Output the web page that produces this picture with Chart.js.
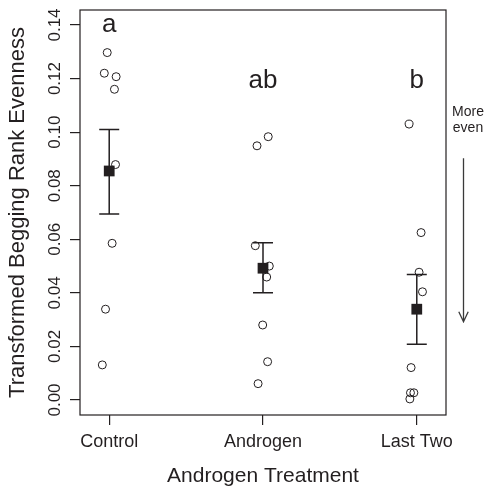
<!DOCTYPE html>
<html>
<head>
<meta charset="utf-8">
<script src="https://cdn.jsdelivr.net/npm/chart.js@4/dist/chart.umd.min.js"></script>
<style>
  html, body { margin: 0; padding: 0; background: #ffffff; }
  #wrap { width: 490px; height: 490px; }
</style>
</head>
<body>
<div id="wrap"><canvas id="c" width="490" height="490"></canvas></div>
<script>
// ---- Data ----
const categories = ['Control', 'Androgen', 'Last Two'];

const controlValues  = [0.1297, 0.1220, 0.1207, 0.1160, 0.0879, 0.0585, 0.0339, 0.0131];
const controlJitter  = [-0.013, -0.032, 0.045, 0.034, 0.041, 0.019, -0.024, -0.045];

const androgenValues = [0.0983, 0.0949, 0.0576, 0.0500, 0.0459, 0.0280, 0.0143, 0.0061];
const androgenJitter = [0.034, -0.039, -0.050, 0.041, 0.024, -0.002, 0.030, -0.032];

const lastTwoValues  = [0.1030, 0.0625, 0.0477, 0.0404, 0.0121, 0.0027, 0.0027, 0.0004];
const lastTwoJitter  = [-0.050, 0.028, 0.015, 0.037, -0.037, -0.019, -0.041, -0.045];

const means      = [0.0855, 0.0492, 0.0339];
const errUpper   = [0.1010, 0.0587, 0.0469];
const errLower   = [0.0694, 0.0400, 0.0208];

const groupLetters = ['a', 'ab', 'b'];

const yTicks      = [0.00, 0.02, 0.04, 0.06, 0.08, 0.10, 0.12, 0.14];
const yTickLabels = ['0.00', '0.02', '0.04', '0.06', '0.08', '0.10', '0.12', '0.14'];
const xTicks      = [1, 2, 3];

// ---- Build datasets ----
const INK = '#231f20';
const FONT = '"Liberation Sans", Arial, Helvetica, sans-serif';

const groups = [
  { values: controlValues,  jitter: controlJitter },
  { values: androgenValues, jitter: androgenJitter },
  { values: lastTwoValues,  jitter: lastTwoJitter }
];

const individualPoints = [];
groups.forEach((g, gi) => {
  g.values.forEach((v, k) => {
    individualPoints.push({ x: xTicks[gi] + g.jitter[k], y: v });
  });
});

const meanPoints = means.map((m, i) => ({ x: xTicks[i], y: m }));

// ---- Plugins ----
const boxPlugin = {
  id: 'box',
  afterDraw(chart) {
    const { ctx, chartArea: a } = chart;
    ctx.save();
    ctx.strokeStyle = INK;
    ctx.lineWidth = 1.2;
    ctx.strokeRect(a.left, a.top, a.right - a.left, a.bottom - a.top);
    ctx.restore();
  }
};

const errorBarPlugin = {
  id: 'errorBars',
  beforeDatasetsDraw(chart) {
    const { ctx } = chart;
    const xs = chart.scales.x, ys = chart.scales.y;
    const capHalf = 10;
    ctx.save();
    ctx.strokeStyle = INK;
    ctx.lineWidth = 1.5;
    means.forEach((m, i) => {
      const px = xs.getPixelForValue(xTicks[i]);
      const pTop = ys.getPixelForValue(errUpper[i]);
      const pBot = ys.getPixelForValue(errLower[i]);
      ctx.beginPath();
      ctx.moveTo(px, pTop); ctx.lineTo(px, pBot);
      ctx.moveTo(px - capHalf, pTop); ctx.lineTo(px + capHalf, pTop);
      ctx.moveTo(px - capHalf, pBot); ctx.lineTo(px + capHalf, pBot);
      ctx.stroke();
    });
    ctx.restore();
  }
};

const annotationPlugin = {
  id: 'annotations',
  afterDatasetsDraw(chart) {
    const { ctx, chartArea: a } = chart;
    const xs = chart.scales.x, ys = chart.scales.y;
    ctx.save();
    // group letters
    const letterBaseline = [0.1374, 0.1165, 0.1165];
    ctx.fillStyle = INK;
    ctx.font = '26px ' + FONT;
    ctx.textAlign = 'center';
    ctx.textBaseline = 'alphabetic';
    groupLetters.forEach((t, i) => {
      ctx.fillText(t, xs.getPixelForValue(xTicks[i]), ys.getPixelForValue(letterBaseline[i]));
    });
    // "More even" note with arrow, outside the plot on the right
    ctx.font = '14px ' + FONT;
    const tx = a.right + 22;
    ctx.fillText('More', tx, 115.5);
    ctx.fillText('even', tx, 131.5);
    const ax = a.right + 17.5;
    const ay1 = ys.getPixelForValue(0.0903);
    const ay2 = ys.getPixelForValue(0.0292);
    ctx.strokeStyle = '#3a3a3a';
    ctx.lineWidth = 1.3;
    ctx.beginPath();
    ctx.moveTo(ax, ay1); ctx.lineTo(ax, ay2);
    ctx.moveTo(ax - 4.7, ay2 - 10); ctx.lineTo(ax, ay2); ctx.lineTo(ax + 4.7, ay2 - 10);
    ctx.stroke();
    ctx.restore();
  }
};

Chart.defaults.color = INK;
Chart.defaults.font.family = FONT;

new Chart(document.getElementById('c'), {
  type: 'scatter',
  data: {
    datasets: [
      {
        label: 'Mean',
        data: meanPoints,
        order: 0,
        pointStyle: 'rect',
        pointRadius: 7.6,
        pointHoverRadius: 7.6,
        backgroundColor: INK,
        borderColor: INK,
        borderWidth: 0
      },
      {
        label: 'Individuals',
        data: individualPoints,
        order: 1,
        pointStyle: 'circle',
        pointRadius: 4,
        pointHoverRadius: 4,
        backgroundColor: 'rgba(0,0,0,0)',
        borderColor: INK,
        borderWidth: 1
      }
    ]
  },
  options: {
    responsive: false,
    animation: false,
    events: [],
    layout: { padding: { top: 10, right: 44, left: 0, bottom: 0 } },
    plugins: {
      legend: { display: false },
      tooltip: { enabled: false }
    },
    scales: {
      x: {
        type: 'linear',
        min: 0.81,
        max: 3.19,
        afterBuildTicks(scale) { scale.ticks = xTicks.map(v => ({ value: v })); },
        afterFit(scale) { scale.height = 75; },
        grid: { drawOnChartArea: false, drawTicks: true, tickLength: 10, color: INK, lineWidth: 1.2 },
        border: { display: false },
        ticks: {
          color: INK,
          font: { size: 18, family: FONT },
          padding: 6,
          maxRotation: 0,
          autoSkip: false,
          callback(value) { const i = xTicks.indexOf(value); return i >= 0 ? categories[i] : ''; }
        },
        title: {
          display: true,
          text: 'Androgen Treatment',
          color: INK,
          font: { size: 21, family: FONT },
          padding: { top: 0, bottom: 1.5 }
        }
      },
      y: {
        type: 'linear',
        min: -0.0056,
        max: 0.1456,
        afterBuildTicks(scale) { scale.ticks = yTicks.map(v => ({ value: v })); },
        afterFit(scale) { scale.width = 80; },
        grid: { drawOnChartArea: false, drawTicks: true, tickLength: 10, color: INK, lineWidth: 1.2 },
        border: { display: false },
        ticks: {
          color: INK,
          font: { size: 17, family: FONT },
          padding: -1.5,
          minRotation: 90,
          maxRotation: 90,
          crossAlign: 'center',
          autoSkip: false,
          callback(value) { const i = yTicks.findIndex(t => Math.abs(t - value) < 1e-9); return i >= 0 ? yTickLabels[i] : ''; }
        },
        title: {
          display: true,
          text: 'Transformed Begging Rank Evenness',
          color: INK,
          font: { size: 22, family: FONT },
          padding: { top: 4.8, bottom: 0 }
        }
      }
    }
  },
  plugins: [boxPlugin, errorBarPlugin, annotationPlugin]
});
</script>
</body>
</html>
